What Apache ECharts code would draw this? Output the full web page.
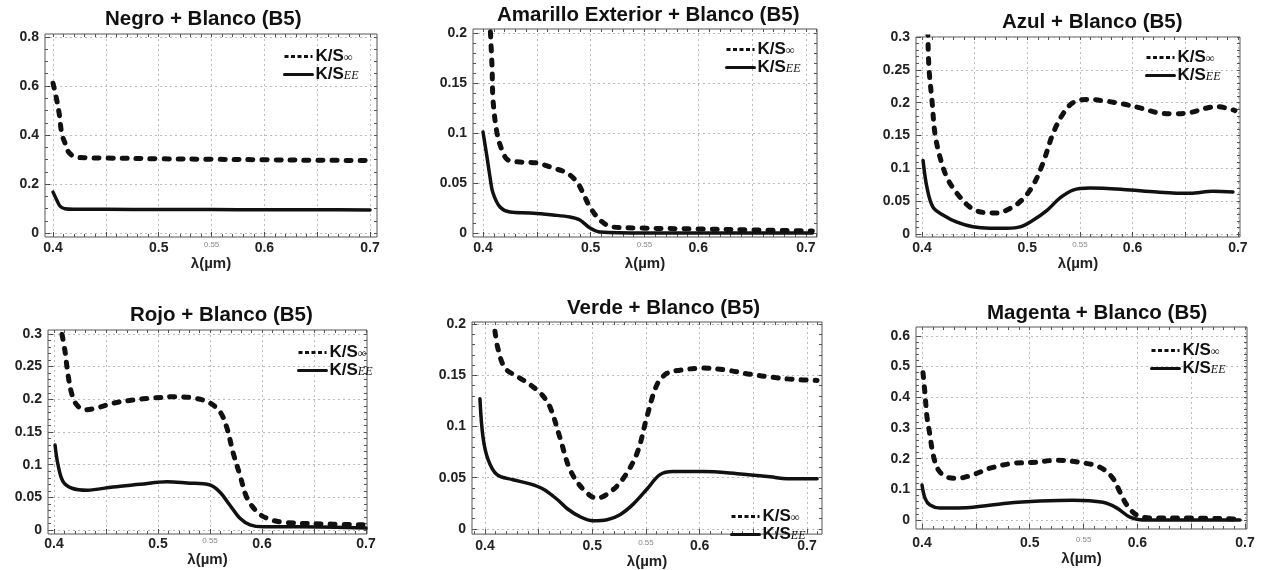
<!DOCTYPE html>
<html>
<head>
<meta charset="utf-8">
<script src="https://cdn.jsdelivr.net/npm/echarts@6/dist/echarts.min.js"></script>
<style>
html, body { margin: 0; padding: 0; background: #fff; }
#main { width: 1262px; height: 570px; }
</style>
</head>
<body>
<div id="main"></div>
<script>
// wavelength ticks shared by all panels
var wlGrid = [0.4, 0.45, 0.5, 0.55, 0.6, 0.65, 0.7];
var wlLabels = [0.4, 0.5, 0.55, 0.6, 0.7];

// Negro + Blanco
var negroYTicks = [0, 0.2, 0.4, 0.6, 0.8];
var negroInfX = [0.4, 0.4035, 0.406, 0.4082, 0.4114, 0.4145, 0.4208, 0.432, 0.45, 0.5, 0.55, 0.6, 0.65, 0.7];
var negroInfY = [0.611, 0.543, 0.482, 0.407, 0.366, 0.332, 0.311, 0.307, 0.306, 0.303, 0.301, 0.299, 0.297, 0.296];
var negroEEX = [0.4, 0.4035, 0.4066, 0.4114, 0.4192, 0.45, 0.5, 0.55, 0.6, 0.65, 0.7];
var negroEEY = [0.167, 0.135, 0.11, 0.099, 0.097, 0.097, 0.096, 0.096, 0.095, 0.095, 0.094];

// Amarillo Exterior + Blanco
var amarilloYTicks = [0, 0.05, 0.1, 0.15, 0.2];
var amarilloInfX = [0.4062, 0.4084, 0.4093, 0.413, 0.4176, 0.4232, 0.4344, 0.45, 0.465, 0.478, 0.4873, 0.4929, 0.4994, 0.5087, 0.5207, 0.543, 0.6, 0.65, 0.706];
var amarilloInfY = [0.215, 0.166, 0.133, 0.1, 0.083, 0.073, 0.071, 0.07, 0.065, 0.06, 0.051, 0.04, 0.026, 0.013, 0.006, 0.005, 0.004, 0.003, 0.002];
var amarilloEEX = [0.4, 0.4037, 0.4065, 0.4093, 0.4158, 0.4251, 0.4436, 0.465, 0.4808, 0.49, 0.4994, 0.5087, 0.55, 0.6, 0.65, 0.706];
var amarilloEEY = [0.101, 0.076, 0.056, 0.04, 0.026, 0.021, 0.02, 0.018, 0.016, 0.013, 0.005, 0.001, 0, 0, 0, 0];

// Azul + Blanco
var azulYTicks = [0, 0.05, 0.1, 0.15, 0.2, 0.25, 0.3];
var azulInfX = [0.4055, 0.4066, 0.4095, 0.4123, 0.4171, 0.4237, 0.4332, 0.4456, 0.4579, 0.4712, 0.4836, 0.495, 0.5054, 0.5149, 0.5244, 0.5339, 0.5434, 0.5567, 0.5719, 0.5909, 0.6071, 0.6232, 0.6384, 0.6545, 0.6707, 0.6802, 0.6972];
var azulInfY = [0.31, 0.253, 0.203, 0.153, 0.117, 0.086, 0.062, 0.041, 0.033, 0.032, 0.039, 0.052, 0.074, 0.108, 0.153, 0.183, 0.2, 0.205, 0.203, 0.198, 0.192, 0.185, 0.183, 0.185, 0.192, 0.194, 0.188];
var azulEEX = [0.401, 0.4047, 0.4104, 0.4199, 0.4332, 0.4484, 0.4646, 0.4807, 0.4931, 0.5054, 0.5187, 0.5311, 0.5434, 0.5595, 0.5909, 0.6232, 0.6545, 0.6763, 0.6953];
var azulEEY = [0.112, 0.071, 0.041, 0.029, 0.018, 0.011, 0.009, 0.009, 0.011, 0.021, 0.036, 0.055, 0.067, 0.07, 0.068, 0.064, 0.062, 0.065, 0.064];

// Rojo + Blanco
var rojoYTicks = [0, 0.05, 0.1, 0.15, 0.2, 0.25, 0.3];
var rojoInfX = [0.4077, 0.4106, 0.4135, 0.4173, 0.4221, 0.4298, 0.4413, 0.4567, 0.476, 0.4952, 0.5183, 0.5337, 0.5481, 0.5596, 0.5663, 0.5721, 0.5788, 0.5856, 0.5952, 0.6048, 0.6202, 0.6683, 0.6971];
var rojoInfY = [0.299, 0.273, 0.237, 0.207, 0.191, 0.184, 0.187, 0.194, 0.199, 0.202, 0.204, 0.202, 0.196, 0.181, 0.156, 0.119, 0.084, 0.049, 0.028, 0.018, 0.012, 0.009, 0.008];
var rojoEEX = [0.401, 0.4038, 0.4087, 0.4173, 0.4317, 0.4567, 0.4827, 0.5087, 0.5279, 0.55, 0.5596, 0.5692, 0.5788, 0.5885, 0.601, 0.6365, 0.7];
var rojoEEY = [0.13, 0.1, 0.074, 0.064, 0.061, 0.066, 0.07, 0.074, 0.072, 0.069, 0.058, 0.038, 0.018, 0.008, 0.005, 0.005, 0.003];

// Verde + Blanco
var verdeYTicks = [0, 0.05, 0.1, 0.15, 0.2];
var verdeInfX = [0.4093, 0.4121, 0.4186, 0.4298, 0.4419, 0.4531, 0.4606, 0.4699, 0.4792, 0.4913, 0.5044, 0.5165, 0.5286, 0.5417, 0.551, 0.5603, 0.5696, 0.5817, 0.6032, 0.6255, 0.647, 0.6684, 0.687, 0.7094];
var verdeInfY = [0.193, 0.176, 0.157, 0.149, 0.141, 0.131, 0.119, 0.089, 0.058, 0.039, 0.03, 0.036, 0.049, 0.074, 0.11, 0.141, 0.152, 0.155, 0.157, 0.155, 0.151, 0.148, 0.146, 0.145];
var verdeEEX = [0.3953, 0.3981, 0.4028, 0.4112, 0.4261, 0.4419, 0.4541, 0.4671, 0.4764, 0.4885, 0.5007, 0.5137, 0.5258, 0.5379, 0.551, 0.5631, 0.5752, 0.6032, 0.6349, 0.6656, 0.6815, 0.7094];
var verdeEEY = [0.127, 0.09, 0.068, 0.053, 0.048, 0.044, 0.039, 0.029, 0.02, 0.012, 0.008, 0.009, 0.014, 0.024, 0.039, 0.053, 0.056, 0.056, 0.054, 0.051, 0.049, 0.049];

// Magenta + Blanco
var magentaYTicks = [0, 0.1, 0.2, 0.3, 0.4, 0.5, 0.6];
var magentaInfX = [0.4009, 0.4028, 0.4046, 0.4074, 0.4102, 0.4149, 0.4232, 0.4325, 0.4474, 0.4631, 0.4845, 0.5031, 0.5253, 0.5467, 0.5653, 0.5773, 0.5838, 0.5903, 0.5996, 0.6145, 0.6488, 0.6953];
var magentaInfY = [0.48, 0.41, 0.336, 0.276, 0.215, 0.165, 0.14, 0.136, 0.148, 0.169, 0.185, 0.188, 0.195, 0.188, 0.172, 0.136, 0.091, 0.049, 0.016, 0.0065, 0.0065, 0.003];
var magentaEEX = [0.4, 0.4028, 0.4074, 0.4167, 0.4474, 0.4789, 0.5096, 0.5402, 0.5681, 0.5811, 0.5931, 0.6089, 0.6953];
var magentaEEY = [0.114, 0.071, 0.049, 0.039, 0.042, 0.055, 0.062, 0.065, 0.058, 0.039, 0.01, 0, 0];

// layout of the six panels
var panels = [
    { title: 'Negro + Blanco (B5)', box: [45, 34, 332, 203], xr: [0.3924, 0.7066], yr: [-0.016, 0.812], yTicks: negroYTicks, yStep: 0.05,
      inf: [negroInfX, negroInfY], ee: [negroEEX, negroEEY], titlePos: [105, 9], legendPos: [283, 48], labelMargin: 4, nameGap: 14 },
    { title: 'Amarillo Exterior + Blanco (B5)', box: [473, 29, 344, 208], xr: [0.3907, 0.7103], yr: [-0.004, 0.204], yTicks: amarilloYTicks, yStep: 0.01,
      inf: [amarilloInfX, amarilloInfY], ee: [amarilloEEX, amarilloEEY], titlePos: [497, 5], legendPos: [725, 41], labelMargin: 4, nameGap: 18 },
    { title: 'Azul + Blanco (B5)', box: [916, 37, 324, 200], xr: [0.3943, 0.702], yr: [-0.0045, 0.3], yTicks: azulYTicks, yStep: 0.01,
      inf: [azulInfX, azulInfY], ee: [azulEEX, azulEEY], titlePos: [1002, 12], legendPos: [1145, 49], labelMargin: 4, nameGap: 14 },
    { title: 'Rojo + Blanco (B5)', box: [48, 330, 319, 204], xr: [0.3942, 0.701], yr: [-0.006, 0.306], yTicks: rojoYTicks, yStep: 0.01,
      inf: [rojoInfX, rojoInfY], ee: [rojoEEX, rojoEEY], titlePos: [130, 305], legendPos: [297, 344], labelMargin: 3, nameGap: 11 },
    { title: 'Verde + Blanco (B5)', box: [472, 322, 350, 216], xr: [0.3879, 0.714], yr: [-0.005, 0.202], yTicks: verdeYTicks, yStep: 0.01,
      inf: [verdeInfX, verdeInfY], ee: [verdeEEX, verdeEEY], titlePos: [567, 298], legendPos: [730, 508], labelMargin: 5, nameGap: 18 },
    { title: 'Magenta + Blanco (B5)', box: [916, 327, 331, 202], xr: [0.3944, 0.7018], yr: [-0.029, 0.629], yTicks: magentaYTicks, yStep: 0.02,
      inf: [magentaInfX, magentaInfY], ee: [magentaEEX, magentaEEY], titlePos: [987, 303], legendPos: [1150, 342], labelMargin: 7, nameGap: 16 }
];

var FONT = 'Liberation Sans, Arial, sans-serif';
var INK = '#111';

function fmt(v) {
    return String(Math.round(v * 1000) / 1000);
}

function steps(from, to, step) {
    var out = [];
    var n = Math.round((to - from) / step);
    for (var i = 0; i <= n; i++) {
        out.push(Math.round((from + i * step) * 10000) / 10000);
    }
    return out;
}

function pairs(xs, ys) {
    return xs.map(function (x, i) { return [x, ys[i]]; });
}

var xMinor = steps(0.39, 0.71, 0.01);

var grids = [], xAxes = [], yAxes = [], series = [], titles = [], legends = [];

panels.forEach(function (p, i) {
    var yTop = p.yTicks[p.yTicks.length - 1];
    var yMinor = steps(0, yTop, p.yStep);

    grids.push({
        left: p.box[0], top: p.box[1], width: p.box[2], height: p.box[3],
        show: true, borderColor: '#555', borderWidth: 1, backgroundColor: 'transparent',
        containLabel: false
    });

    // main bottom axis: labels, major ticks, grid lines
    xAxes.push({
        type: 'value', gridIndex: i, position: 'bottom', min: p.xr[0], max: p.xr[1],
        axisLine: { show: false, onZero: false },
        axisTick: { show: true, inside: true, length: 5, customValues: wlGrid, lineStyle: { color: '#444' } },
        splitLine: { show: true, lineStyle: { color: '#bdbdbd', type: [2, 3], width: 1 } },
        axisLabel: {
            customValues: wlLabels, margin: p.labelMargin,
            formatter: function (v) {
                return Math.abs(v - 0.55) < 1e-6 ? '{s|0.55}' : '{b|' + fmt(v) + '}';
            },
            rich: {
                b: { fontSize: 14, fontWeight: 'bold', fontFamily: FONT, color: '#222' },
                s: { fontSize: 8, fontFamily: FONT, color: '#888', padding: [0, 0, 6, 0] }
            }
        },
        name: 'λ(µm)', nameLocation: 'middle', nameGap: p.nameGap,
        nameTextStyle: { fontSize: 15, fontWeight: 'bold', fontFamily: FONT, color: '#222' }
    });
    // minor ticks on top and bottom
    xAxes.push({
        type: 'value', gridIndex: i, position: 'top', min: p.xr[0], max: p.xr[1],
        axisLine: { show: false, onZero: false },
        axisTick: { show: true, inside: true, length: 3, customValues: xMinor, lineStyle: { color: '#555' } },
        axisLabel: { show: false }, splitLine: { show: false }
    });
    xAxes.push({
        type: 'value', gridIndex: i, position: 'bottom', min: p.xr[0], max: p.xr[1],
        axisLine: { show: false, onZero: false },
        axisTick: { show: true, inside: true, length: 3, customValues: xMinor, lineStyle: { color: '#555' } },
        axisLabel: { show: false }, splitLine: { show: false }
    });

    yAxes.push({
        type: 'value', gridIndex: i, position: 'left', min: p.yr[0], max: p.yr[1],
        axisLine: { show: false, onZero: false },
        axisTick: { show: true, inside: true, length: 5, customValues: p.yTicks, lineStyle: { color: '#444' } },
        splitLine: { show: true, lineStyle: { color: '#bdbdbd', type: [2, 3], width: 1 } },
        axisLabel: {
            customValues: p.yTicks, margin: 6, formatter: fmt,
            fontSize: 14, fontWeight: 'bold', fontFamily: FONT, color: '#222'
        }
    });
    yAxes.push({
        type: 'value', gridIndex: i, position: 'right', min: p.yr[0], max: p.yr[1],
        axisLine: { show: false, onZero: false },
        axisTick: { show: true, inside: true, length: 3, customValues: yMinor, lineStyle: { color: '#555' } },
        axisLabel: { show: false }, splitLine: { show: false }
    });
    yAxes.push({
        type: 'value', gridIndex: i, position: 'left', min: p.yr[0], max: p.yr[1],
        axisLine: { show: false, onZero: false },
        axisTick: { show: true, inside: true, length: 3, customValues: yMinor, lineStyle: { color: '#555' } },
        axisLabel: { show: false }, splitLine: { show: false }
    });

    series.push({
        name: 'inf' + i, type: 'line', xAxisIndex: 3 * i, yAxisIndex: 3 * i,
        data: pairs(p.inf[0], p.inf[1]), smooth: 0.35, symbol: 'none', showSymbol: false,
        clip: true, z: 4,
        lineStyle: { color: INK, width: 5, type: [5, 9], cap: 'round' },
        itemStyle: { color: INK }
    });
    series.push({
        name: 'ee' + i, type: 'line', xAxisIndex: 3 * i, yAxisIndex: 3 * i,
        data: pairs(p.ee[0], p.ee[1]), smooth: 0.35, symbol: 'none', showSymbol: false,
        clip: true, z: 4,
        lineStyle: { color: INK, width: 3.5, type: 'solid', cap: 'round' },
        itemStyle: { color: INK }
    });

    titles.push({
        text: p.title, left: p.titlePos[0], top: p.titlePos[1], padding: 0,
        textStyle: { fontSize: 20.5, fontWeight: 'bold', fontFamily: FONT, color: INK }
    });

    legends.push({
        left: p.legendPos[0], top: p.legendPos[1], orient: 'vertical',
        padding: 0, itemGap: 1, itemWidth: 28, itemHeight: 12, selectedMode: false,
        data: [
            { name: 'inf' + i, lineStyle: { type: [4, 2.5], width: 3, cap: 'butt' }, itemStyle: { opacity: 0 } },
            { name: 'ee' + i, lineStyle: { type: 'solid', width: 3 }, itemStyle: { opacity: 0 } }
        ],
        formatter: function (name) {
            return name.indexOf('inf') === 0 ? '{k|K/S}{s|∞}' : '{k|K/S}{s|EE}';
        },
        textStyle: {
            padding: [0, 0, 0, -2],
            rich: {
                k: { fontSize: 17, fontWeight: 'bold', fontFamily: FONT, color: INK, lineHeight: 15, verticalAlign: 'middle' },
                s: { fontSize: 12, fontStyle: 'italic', fontFamily: 'Liberation Serif, serif', color: INK, lineHeight: 10, verticalAlign: 'bottom' }
            }
        }
    });
});

var myChart = echarts.init(document.getElementById('main'), null, { renderer: 'canvas' });
myChart.setOption({
    backgroundColor: '#fff',
    animation: false,
    title: titles,
    legend: legends,
    grid: grids,
    xAxis: xAxes,
    yAxis: yAxes,
    series: series
});
</script>
</body>
</html>
